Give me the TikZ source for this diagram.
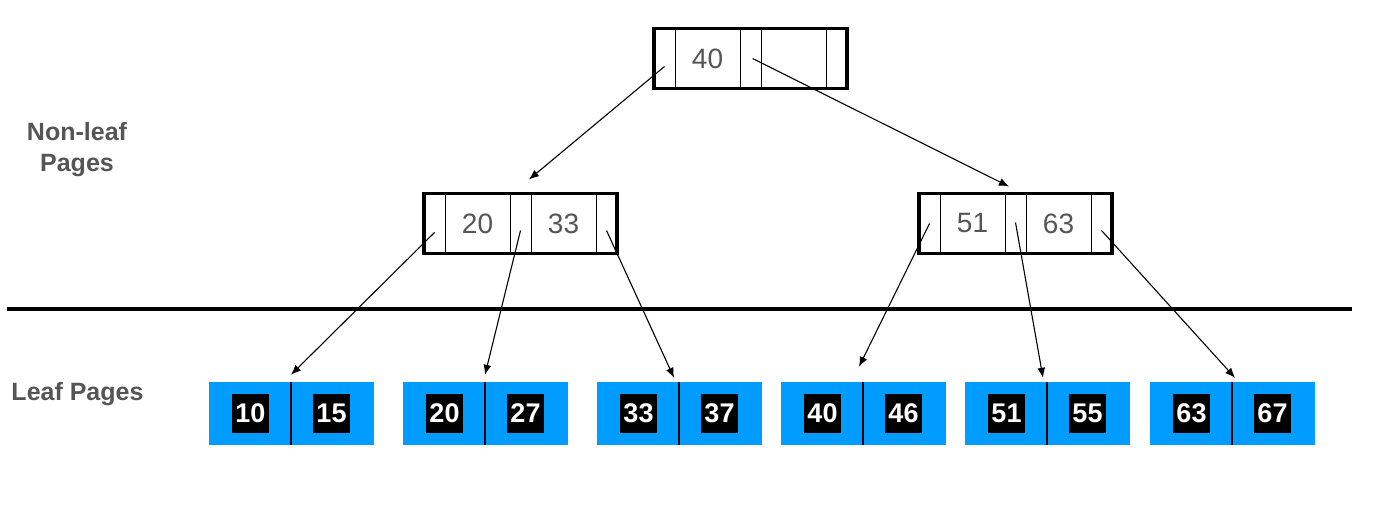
\documentclass[tikz,border=0pt]{standalone}
\usepackage{fontspec}
\setmainfont{Liberation Sans}
\usetikzlibrary{positioning,fit,arrows.meta}
\definecolor{textgray}{RGB}{85,85,85}
\definecolor{leafblue}{RGB}{0,156,255}

\begin{document}
\begin{tikzpicture}[x=1pt, y=-1pt,
		ptr/.style={draw, line width=0.8pt, minimum width=21pt, minimum height=60pt, inner sep=0pt, outer sep=0pt},
		key/.style={ptr, minimum width=65pt, text=textgray, font=\fontsize{28}{30}\selectfont},
		page/.style={draw, line width=3.6pt, inner sep=0pt, outer sep=0pt},
		leaf/.style={fill=leafblue, minimum width=165pt, minimum height=63pt, inner sep=0pt},
		val/.style={fill=black, text=white, minimum width=37pt, minimum height=39pt, inner sep=0pt, font=\bfseries\fontsize{27}{28}\selectfont},
		link/.style={-{Latex[length=10pt,width=8pt]}, line width=1.1pt},
		side/.style={text=textgray, align=center, font=\bfseries\fontsize{25}{31}\selectfont}]
			\useasboundingbox (0,0) rectangle (1400,521);
			% side labels
			\node[side] (nonleaf) at (77,150) {Non-leaf\\Pages};
			\node[side] (leafpages) at (77.5,394) {Leaf Pages};
			% divider
			\draw[line width=3.5pt] (7,309) -- (1352,309);
			% root page
			\node[ptr, anchor=west] (rp1) at (654,58.5) {};
			\node[key, right=0pt of rp1] (rk1) {40};
			\node[ptr, right=0pt of rk1] (rp2) {};
			\node[key, right=0pt of rp2] (rk2) {};
			\node[ptr, right=0pt of rk2] (rp3) {};
			\node[page, fit=(rp1)(rp3)] (root) {};
			% left page
			\node[ptr, anchor=west] (lp1) at (424,223.5) {};
			\node[key, right=0pt of lp1] (lk1) {20};
			\node[ptr, right=0pt of lk1] (lp2) {};
			\node[key, right=0pt of lp2] (lk2) {33};
			\node[ptr, right=0pt of lk2] (lp3) {};
			\node[page, fit=(lp1)(lp3)] (left) {};
			% right page
			\node[ptr, anchor=west] (sp1) at (919,223.5) {};
			\node[key, right=0pt of sp1] (sk1) {51};
			\node[ptr, right=0pt of sk1] (sp2) {};
			\node[key, right=0pt of sp2] (sk2) {63};
			\node[ptr, right=0pt of sk2] (sp3) {};
			\node[page, fit=(sp1)(sp3)] (right) {};
			% leaf pages
			\foreach \x/\a/\b [count=\i] in {291/10/15, 485/20/27, 679/33/37, 863/40/46, 1047/51/55, 1232/63/67} {
				\node[leaf] (leaf\i) at (\x,413.5) {};
				\draw[line width=1.5pt] (leaf\i.north) -- (leaf\i.south);
				\node[val] (va\i) at ([xshift=-40.5pt]leaf\i.center) {\a};
				\node[val] (vb\i) at ([xshift=40.5pt]leaf\i.center) {\b};
			}
			% pointers
			\draw[link] ([yshift=-8pt]rp1.center) -- ([xshift=-2pt,yshift=14pt]lp2.north east);
			\draw[link] ([xshift=2pt]rp2.center) -- ([xshift=-6.5pt,yshift=7pt]sp2.north);
			\draw[link] ([yshift=-9pt]lp1.center) -- ([yshift=7pt]leaf1.north);
			\draw[link] ([yshift=-7pt]lp2.center) -- ([yshift=7pt]leaf2.north);
			\draw[link] ([yshift=-7pt]lp3.center) -- ([xshift=-5pt,yshift=4pt]leaf3.north);
			\draw[link] (sp1.center) -- ([xshift=-4pt,yshift=15pt]leaf4.north);
			\draw[link] ([yshift=1pt]sp2.center) -- ([xshift=-4pt,yshift=4pt]leaf5.north);
			\draw[link] ([yshift=-7pt]sp3.center) -- ([xshift=3pt,yshift=4pt]leaf6.north);
		\end{tikzpicture}
\end{document}
